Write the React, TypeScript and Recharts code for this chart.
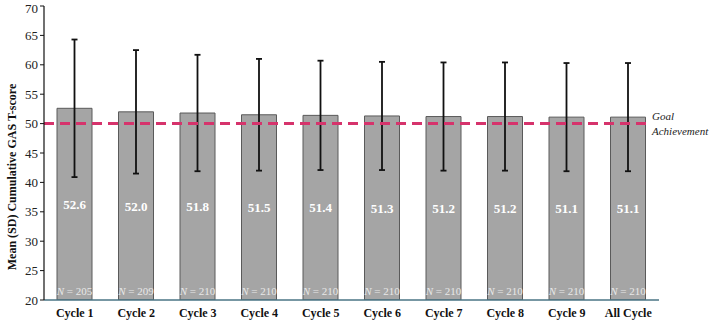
import React from "react";
import { BarChart, Bar, XAxis, YAxis, ErrorBar, ReferenceLine, LabelList } from "recharts";

const categories = ["Cycle 1", "Cycle 2", "Cycle 3", "Cycle 4", "Cycle 5", "Cycle 6", "Cycle 7", "Cycle 8", "Cycle 9", "All Cycle"];
const means = [52.6, 52.0, 51.8, 51.5, 51.4, 51.3, 51.2, 51.2, 51.1, 51.1];
const sds = [11.7, 10.5, 9.9, 9.5, 9.3, 9.2, 9.2, 9.2, 9.2, 9.2];
const ns = [205, 209, 210, 210, 210, 210, 210, 210, 210, 210];
const yTicks = [20, 25, 30, 35, 40, 45, 50, 55, 60, 65, 70];
const goal = 50;

const data = categories.map((c, i) => ({ name: c, mean: means[i], sd: sds[i], n: ns[i] }));

const FONT = "Liberation Serif";

const NLabel = (props: any) => {
  const { x, y, width, height, value } = props;
  return (
    <text x={x + width / 2} y={y + height - 5} textAnchor="middle" fill="#e8e8e8" fontFamily={FONT} fontSize={11}>
      <tspan fontStyle="italic">N</tspan>
      <tspan> = {value}</tspan>
    </text>
  );
};

const GoalLine = (props: any) => {
  const { x1, y1, x2, y2 } = props;
  return (
    <g>
      <line x1={x1} y1={y1} x2={x2 - 12} y2={y2} stroke="#d6336c" strokeWidth={3} strokeDasharray="10 6" />
      <text fontFamily={FONT} fontStyle="italic" fontSize={11} fill="#222">
        <tspan x={x2 - 7} y={y1 - 4}>Goal</tspan>
        <tspan x={x2 - 7} y={y1 + 11}>Achievement</tspan>
      </text>
    </g>
  );
};

const YLabel = () => (
  <text
    x={12}
    y={177}
    transform="rotate(-90 12 177)"
    textAnchor="middle"
    dominantBaseline="central"
    fontFamily={FONT}
    fontSize={12}
    fontWeight="bold"
    fill="#111"
  >
    Mean (SD) Cumulative GAS T-score
  </text>
);

export default function App() {
  return (
    <div style={{ position: "absolute", left: 0, top: 0, width: 709, height: 321, background: "#fff" }}>
      <BarChart width={709} height={321} data={data} margin={{ top: 6, right: 50, bottom: 0, left: 0 }} barSize={35}>
        <XAxis
          dataKey="name"
          tickLine={false}
          axisLine={{ stroke: "#4a7485", strokeWidth: 1.5 }}
          tick={{ fontFamily: FONT, fontSize: 12, fontWeight: "bold", fill: "#111" }}
          height={21}
          interval={0}
          tickMargin={2}
        />
        <YAxis
          domain={[20, 70]}
          ticks={yTicks}
          width={44}
          allowDataOverflow
          tickLine={{ stroke: "#111" }}
          tickSize={4}
          axisLine={{ stroke: "#111", strokeWidth: 1.2 }}
          tick={{ fontFamily: FONT, fontSize: 13, fill: "#222" }}
          label={<YLabel />}
        />
        <Bar dataKey="mean" fill="#a5a5a5" stroke="#5a5a5a" strokeWidth={1} isAnimationActive={false}>
          <ErrorBar dataKey="sd" width={3} stroke="#111" strokeWidth={1.8} direction="y" />
          <LabelList dataKey="mean" position="center" formatter={(v: any) => Number(v).toFixed(1)} fill="#fff" fontFamily={FONT} fontSize={13} fontWeight="bold" />
          <LabelList dataKey="n" content={NLabel} />
        </Bar>
        <ReferenceLine y={goal} shape={GoalLine} ifOverflow="extendDomain" />
      </BarChart>
    </div>
  );
}
